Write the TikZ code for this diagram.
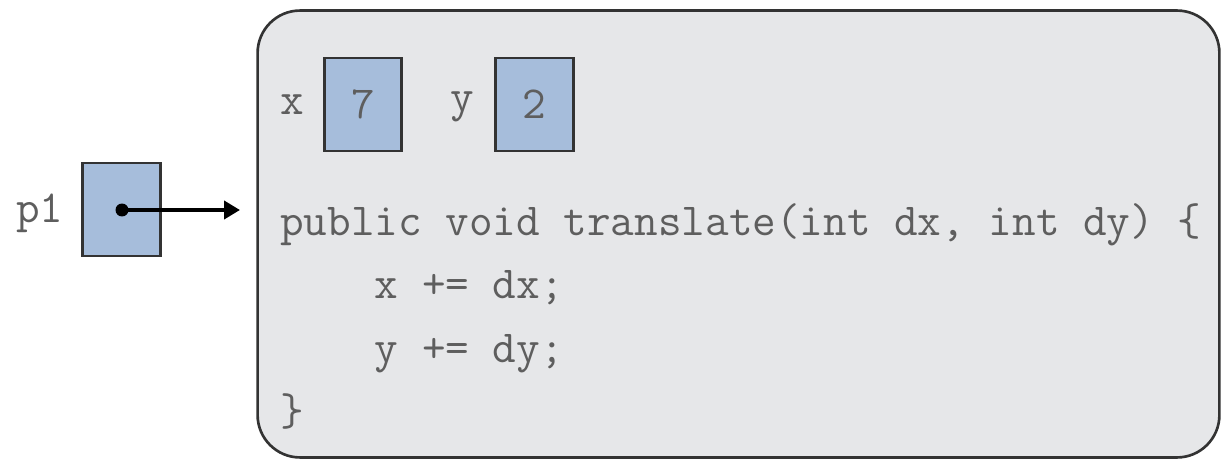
\documentclass[tikz,border=0pt]{standalone}
\usepackage{fontspec}
\usetikzlibrary{arrows.meta}
\definecolor{cellblue}{HTML}{A6BDDB}
\definecolor{objgray}{HTML}{E6E7E9}
\definecolor{codegray}{HTML}{5E5E5E}
\tikzset{
    cell/.style={rectangle,draw=black!80,line width=1.5pt,fill=cellblue,inner sep=0pt,
        minimum width=1.55cm,minimum height=1.86cm,font=\codefont,text=codegray},
    codeline/.style={anchor=base west,inner sep=0pt,font=\codefont,text=codegray},
    varlabel/.style={inner sep=0pt,font=\codefont,text=codegray}
}
\newcommand{\codefont}{\fontsize{26.1pt}{30pt}\selectfont\ttfamily}
\begin{document}
\begin{tikzpicture}[x=0.02cm,y=0.02cm]
    \useasboundingbox (0,0) rectangle (1222,460);
    % the object
    \node[rectangle,rounded corners=0.85cm,draw=black!80,line width=1.5pt,fill=objgray,
        minimum width=19.24cm,minimum height=8.94cm] (obj) at (738.5,226) {};
    % fields
    \node[varlabel] (xname) at (292,355) {x};
    \node[cell] (xcell) at (363,355.5) {7};
    \node[varlabel] (yname) at (462,353) {y};
    \node[cell] (ycell) at (534.5,355.5) {2};
    % method
    \node[codeline] (l1) at (280,225) {public void translate(int dx, int dy) \{};
    \node[codeline] (l2) at (280,162) {\ \ \ \ x += dx;};
    \node[codeline] (l3) at (280,98) {\ \ \ \ y += dy;};
    \node[codeline] (l4) at (280,35) {\}};
    % the reference
    \node[varlabel] (p1name) at (40,247) {p1};
    \node[cell] (p1cell) at (121.5,250.5) {};
    \node[circle,fill=black,inner sep=0pt,minimum size=0.26cm] (dot) at (122,250) {};
    \coordinate (tip) at (240,250);
    \draw[-{Triangle[length=0.32cm,width=0.36cm]},line width=2.4pt] (dot.center) -- (tip);
\end{tikzpicture}
\end{document}
